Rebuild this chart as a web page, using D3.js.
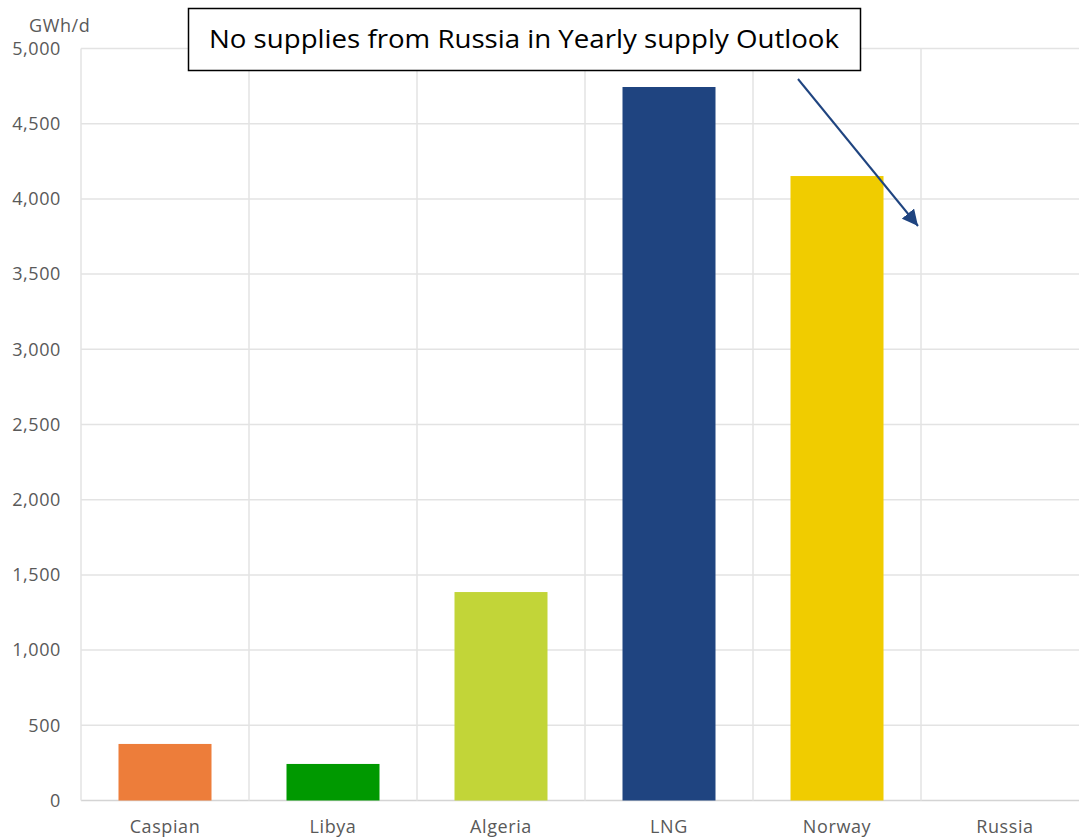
<!DOCTYPE html>
<html>
<head>
<meta charset="utf-8">
<script src="https://cdn.jsdelivr.net/npm/d3@7"></script>
<style>
  html, body { margin: 0; padding: 0; background: #fff; }
  svg { display: block; }
  text { font-family: "Open Sans", "Noto Sans", sans-serif; }
</style>
</head>
<body>
<div id="chart"></div>
<script>
const WIDTH = 1079, HEIGHT = 839;
const MARGIN = { LEFT: 81, TOP: 48.5, BOTTOM: 38.5 };

// data
const categories = ["Caspian", "Libya", "Algeria", "LNG", "Norway", "Russia"];
const values = [376, 243, 1386, 4744, 4152, 0];
const colors = ["#ED7D3A", "#009900", "#C2D538", "#1F4480", "#F0CC00", "#999999"];
const yTicks = [0, 500, 1000, 1500, 2000, 2500, 3000, 3500, 4000, 4500, 5000];
const unitLabel = "GWh/d";
const noteText = "No supplies from Russia in Yearly supply Outlook";

const svg = d3.select("#chart")
  .append("svg")
  .attr("width", WIDTH)
  .attr("height", HEIGHT);

const step = 168;
const x = d3.scaleBand()
  .domain(categories)
  .range([MARGIN.LEFT, MARGIN.LEFT + step * categories.length])
  .paddingInner(75 / 168)
  .paddingOuter(75 / 168 / 2);

const y = d3.scaleLinear()
  .domain([0, 5000])
  .range([HEIGHT - MARGIN.BOTTOM, MARGIN.TOP]);

// horizontal grid
svg.append("g")
  .selectAll("line")
  .data(yTicks)
  .enter()
  .append("line")
  .attr("x1", MARGIN.LEFT)
  .attr("x2", WIDTH)
  .attr("y1", d => y(d))
  .attr("y2", d => y(d))
  .attr("stroke", d => d === 0 ? "#d4d4d4" : "#e3e3e3")
  .attr("stroke-width", 1.5);

// vertical grid, category boundaries
const bounds = categories.map(c => x(c) - x.step() * x.paddingInner() / 2);
svg.append("g")
  .selectAll("line")
  .data(bounds)
  .enter()
  .append("line")
  .attr("x1", d => d)
  .attr("x2", d => d)
  .attr("y1", y(5000))
  .attr("y2", y(0))
  .attr("stroke", "#e3e3e3")
  .attr("stroke-width", 1.5);

// bars
svg.append("g")
  .selectAll("rect")
  .data(values)
  .enter()
  .append("rect")
  .attr("x", (d, i) => x(categories[i]))
  .attr("y", d => y(d))
  .attr("width", x.bandwidth())
  .attr("height", d => y(0) - y(d))
  .attr("fill", (d, i) => colors[i]);

// y tick labels
svg.append("g")
  .selectAll("text")
  .data(yTicks)
  .enter()
  .append("text")
  .attr("x", 61)
  .attr("y", d => y(d))
  .attr("dy", "0.35em")
  .attr("text-anchor", "end")
  .style("font-size", "18px")
  .style("letter-spacing", "0.6px")
  .attr("fill", "#595959")
  .text(d => d3.format(",")(d));

svg.append("text")
  .attr("x", 29)
  .attr("y", 32)
  .style("font-size", "18px")
  .style("letter-spacing", "0.6px")
  .attr("fill", "#595959")
  .text(unitLabel);

// category labels
svg.append("g")
  .selectAll("text")
  .data(categories)
  .enter()
  .append("text")
  .attr("x", d => x(d) + x.bandwidth() / 2)
  .attr("y", 833)
  .attr("text-anchor", "middle")
  .style("font-size", "18px")
  .style("letter-spacing", "0.6px")
  .attr("fill", "#595959")
  .text(d => d);

// annotation arrow
svg.append("defs")
  .append("marker")
  .attr("id", "arrow")
  .attr("viewBox", "0 0 10 10")
  .attr("refX", 10)
  .attr("refY", 5)
  .attr("markerWidth", 8)
  .attr("markerHeight", 8)
  .attr("markerUnits", "strokeWidth")
  .attr("orient", "auto")
  .append("path")
  .attr("d", "M0,0 L10,5 L0,10 Z")
  .attr("fill", "#1F4480");

svg.append("line")
  .attr("x1", 798)
  .attr("y1", 79)
  .attr("x2", 918)
  .attr("y2", 226)
  .attr("stroke", "#1F4480")
  .attr("stroke-width", 2)
  .attr("marker-end", "url(#arrow)");

// annotation box
svg.append("rect")
  .attr("x", 188.5)
  .attr("y", 8.5)
  .attr("width", 672)
  .attr("height", 62)
  .attr("fill", "#fff")
  .attr("stroke", "#000")
  .attr("stroke-width", 1.5);

svg.append("text")
  .attr("x", 209)
  .attr("y", 48)
  .attr("textLength", 630)
  .attr("lengthAdjust", "spacingAndGlyphs")
  .style("font-size", "26px")
  .attr("fill", "#000")
  .text(noteText);
</script>
</body>
</html>
